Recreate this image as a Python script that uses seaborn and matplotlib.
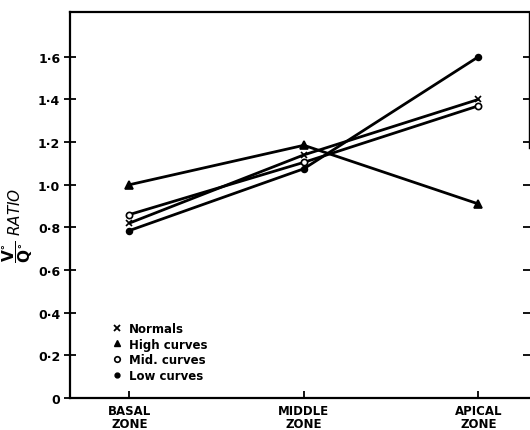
import matplotlib
matplotlib.use("Agg")
import matplotlib.pyplot as plt
from matplotlib.lines import Line2D
import seaborn as sns
import pandas as pd

zones = ["BASAL\nZONE", "MIDDLE\nZONE", "APICAL\nZONE"]
groups = ["Normals", "High curves", "Mid. curves", "Low curves"]
normals = [0.82, 1.14, 1.40]
high_curves = [1.00, 1.185, 0.91]
mid_curves = [0.86, 1.105, 1.37]
low_curves = [0.785, 1.075, 1.60]
yticks = [0, 0.2, 0.4, 0.6, 0.8, 1.0, 1.2, 1.4, 1.6]
ytick_labels = ["0", "0·2", "0·4", "0·6", "0·8", "1·0", "1·2", "1·4", "1·6"]

series = {"Normals": normals, "High curves": high_curves,
          "Mid. curves": mid_curves, "Low curves": low_curves}
rows = []
for g in groups:
    for i, v in enumerate(series[g]):
        rows.append({"pos": i, "zone": zones[i], "ratio": v, "group": g})
df = pd.DataFrame(rows)

sns.set_theme(style="ticks")
plt.rcParams['font.family'] = ['DejaVu Sans']
plt.rcParams['text.color'] = 'black'
plt.rcParams['axes.labelcolor'] = 'black'
plt.rcParams['xtick.color'] = 'black'
plt.rcParams['ytick.color'] = 'black'
plt.rcParams['mathtext.fontset'] = 'dejavusans'

fig = plt.figure(figsize=(5.30, 4.31), dpi=100)
ax = fig.add_axes([70/530, 32/431, 459/530, 386/431])

marker_map = {"Normals": "x", "High curves": "^", "Mid. curves": "o", "Low curves": "o"}
msize = {"Normals": 5, "High curves": 5.5, "Mid. curves": 4.5, "Low curves": 4.2}
face = {"Normals": "black", "High curves": "black", "Mid. curves": "white", "Low curves": "black"}

for g in groups:
    sub = df[df.group == g]
    sns.lineplot(data=sub, x="pos", y="ratio", ax=ax, color="black",
                 linewidth=2.0, marker=marker_map[g], markersize=msize[g],
                 markerfacecolor=face[g], markeredgecolor="black",
                 markeredgewidth=1.2, legend=False, zorder=3)

ax.set_xlim(-0.34, 2.29)
ax.set_ylim(0, 1.81)
ax.set_xticks(range(len(zones)))
ax.set_xticklabels(zones, fontsize=8.5, fontweight="bold", linespacing=1.0, color="black")
ax.set_yticks(yticks)
ax.set_yticklabels(ytick_labels, fontsize=9, fontweight="bold", color="black")
ax.set_xlabel("")
ax.set_ylabel(r"$\dfrac{\mathbf{V^{\circ}}}{\mathbf{Q^{\circ}}}\ \mathit{RATIO}$", fontsize=11,
              color="black", labelpad=2)
ax.yaxis.label.set_y(0.45)

ax.tick_params(axis="y", which="both", direction="inout", length=8, width=1.3,
               left=True, right=True, labelright=False, pad=3)
ax.tick_params(axis="x", direction="in", length=5, width=1.3, pad=4)

for s in ["left", "bottom", "top"]:
    ax.spines[s].set_linewidth(1.6)
    ax.spines[s].set_color("black")
ax.spines["right"].set_visible(True)
ax.spines["right"].set_linewidth(1.0)
ax.spines["right"].set_color("black")
ax.spines["right"].set_bounds(1.17, 1.81)

handles = [
    Line2D([], [], linestyle="none", marker="x", color="black", markersize=4.5, markeredgewidth=1.3),
    Line2D([], [], linestyle="none", marker="^", color="black", markersize=5),
    Line2D([], [], linestyle="none", marker="o", markerfacecolor="white", markeredgecolor="black", markersize=4, markeredgewidth=1.2),
    Line2D([], [], linestyle="none", marker="o", color="black", markersize=3.5),
]
leg = ax.legend(handles, groups, loc="lower left", bbox_to_anchor=(0.085, 0.03),
                frameon=False, handlelength=0.6, handletextpad=0.7,
                labelspacing=0.22, borderaxespad=0,
                prop={"weight": "bold", "size": 8.5})
for t in leg.get_texts():
    t.set_color("black")

fig.savefig("out.png", dpi=100)
